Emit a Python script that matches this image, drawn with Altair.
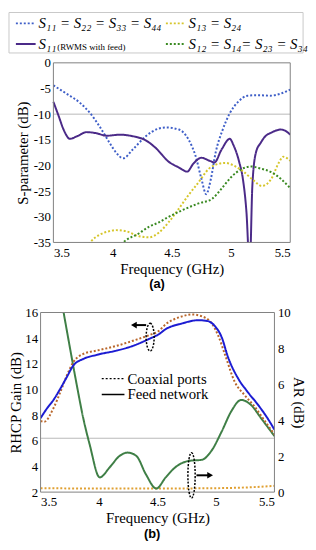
import altair as alt
import pandas as pd

FONT = "Liberation Serif"

# ---------------- Panel (a): S-parameters ----------------
F_S11 = [3.5, 3.61, 3.73, 3.81, 3.89, 3.975, 4.03, 4.09, 4.17, 4.28, 4.39, 4.45, 4.56, 4.64,
         4.70, 4.75, 4.79, 4.83, 4.87, 4.93, 4.99, 5.06, 5.14, 5.23, 5.33, 5.42, 5.5]
V_S11 = [-4.4, -6.0, -7.9, -9.8, -12.4, -15.6, -17.5, -18.6, -16.9, -14.3, -12.8, -12.6, -13.0, -14.9,
         -18.1, -22.6, -25.6, -22.6, -17.5, -13.0, -9.8, -7.6, -6.4, -6.3, -6.4, -6.0, -5.2]

F_RW = [3.5, 3.545, 3.586, 3.64, 3.70, 3.78, 3.86, 3.95, 4.06, 4.17, 4.28, 4.36, 4.475, 4.56,
        4.63, 4.68, 4.75, 4.82, 4.86, 4.92, 4.99, 5.02, 5.07, 5.10, 5.13, 5.158, 5.18, 5.21,
        5.25, 5.29, 5.34, 5.42, 5.47, 5.5]
V_RW = [-7.6, -10.4, -13.0, -14.8, -14.3, -13.5, -13.7, -14.2, -14.0, -14.3, -15.1, -16.5, -19.3, -20.4,
        -21.2, -19.7, -18.5, -19.1, -19.4, -16.9, -14.8, -16.0, -19.4, -22.6, -29.0, -40.0, -24.0, -17.5,
        -15.6, -14.3, -13.6, -13.0, -13.4, -14.0]

F_S13 = [3.78, 3.81, 3.89, 3.975, 4.03, 4.11, 4.225, 4.31, 4.39, 4.475, 4.56, 4.64, 4.725, 4.81,
         4.89, 4.95, 5.03, 5.11, 5.19, 5.26, 5.34, 5.405, 5.44, 5.5]
V_S13 = [-36.0, -35.0, -33.5, -32.8, -32.6, -32.8, -33.8, -34.0, -33.1, -31.0, -28.4, -25.8, -23.3, -20.7,
         -19.7, -19.5, -20.1, -21.3, -22.9, -24.0, -22.6, -19.4, -18.3, -19.1]

F_S12 = [4.05, 4.09, 4.225, 4.31, 4.39, 4.45, 4.59, 4.725, 4.84, 4.92, 5.0, 5.09, 5.17, 5.25,
         5.34, 5.42, 5.5]
V_S12 = [-36.0, -35.0, -33.2, -31.9, -31.1, -30.3, -28.7, -27.4, -26.5, -24.5, -22.3, -20.7, -20.2, -20.6,
         -21.3, -22.6, -24.4]

SERIES_A = ["S11", "S11 RWMS", "S13", "S12"]
COLORS_A = ["#3f5fc8", "#4b2a88", "#d6c62c", "#3a8a22"]
DASH_A = [[2, 2], [1, 0], [2, 2], [2, 2]]
LEG_A = ["S\u2081\u2081 = S\u2082\u2082 = S\u2083\u2083 = S\u2084\u2084",
         "S\u2081\u2081",
         "S\u2081\u2083 = S\u2082\u2084",
         "S\u2081\u2082 = S\u2081\u2084= S\u2082\u2083 = S\u2083\u2084"]
LEG_A_SUB = "(RWMS with feed)"

rows = []
for name, fs, vs in zip(SERIES_A, [F_S11, F_RW, F_S13, F_S12], [V_S11, V_RW, V_S13, V_S12]):
    for f, v in zip(fs, vs):
        rows.append({"series": name, "f": f, "v": v})
df_a = pd.DataFrame(rows)

axis_common = dict(domain=False, ticks=False, grid=False, labelFont=FONT, titleFont=FONT,
                   labelFontSize=13, titleFontSize=15, labelColor="black", titleColor="black",
                   titleFontWeight="normal")

# panel (a) view is 253 wide; the data area occupies pixels 13..253 of it
WA, HA, SHIFT = 253, 182, 13
xa = alt.X("f:Q", scale=alt.Scale(domain=[3.5, 5.5], nice=False, zero=False, range=[SHIFT, WA]),
           axis=alt.Axis(values=[3.5, 4, 4.5, 5, 5.5], format="~g", title="Frequency (GHz)",
                         titleX=SHIFT + (WA - SHIFT) / 2, labelPadding=4, titlePadding=2, **axis_common))
ya = alt.Y("v:Q", scale=alt.Scale(domain=[-35, 0], nice=False, zero=False),
           axis=alt.Axis(values=list(range(-35, 1, 5)), labelExpr="'' + datum.value", offset=-SHIFT,
                         title="S-parameter (dB)", labelPadding=3, titlePadding=3, **axis_common))

one = pd.DataFrame({"k": [0]})
box_a = alt.Chart(one).mark_rect(fillOpacity=0, stroke="#808080", strokeWidth=1).encode(
    x=alt.value(SHIFT), x2=alt.value(WA), y=alt.value(0), y2=alt.value(HA))

grid_a = alt.Chart(pd.DataFrame({"v": [-10]})).mark_rule(color="#b8b8b8", strokeWidth=1).encode(
    y=ya, x=alt.value(SHIFT), x2=alt.value(WA))

lines_a = alt.Chart(df_a).mark_line(clip=True, strokeWidth=2, interpolate="monotone").encode(
    x=xa, y=ya,
    color=alt.Color("series:N", scale=alt.Scale(domain=SERIES_A, range=COLORS_A), legend=None),
    strokeDash=alt.StrokeDash("series:N", scale=alt.Scale(domain=SERIES_A, range=DASH_A), legend=None),
)

leg_box = alt.Chart(one).mark_rect(fill="white", stroke="#c8c8c8", strokeWidth=1).encode(
    x=alt.value(-32), x2=alt.value(266), y=alt.value(-51), y2=alt.value(-10))

leg_layers = [leg_box]
pos = [(-25, -40), (-25, -19), (127, -40), (127, -19)]
for i, (px, py) in enumerate(pos):
    leg_layers.append(
        alt.Chart(one).mark_rule(color=COLORS_A[i], strokeDash=DASH_A[i], strokeWidth=2).encode(
            x=alt.value(px), x2=alt.value(px + 20), y=alt.value(py)))
    leg_layers.append(
        alt.Chart(pd.DataFrame({"t": [LEG_A[i]]})).mark_text(
            align="left", baseline="middle", font=FONT, fontSize=15, fontStyle="italic", color="black"
        ).encode(x=alt.value(px + 23), y=alt.value(py), text="t:N"))
leg_layers.append(
    alt.Chart(pd.DataFrame({"t": [LEG_A_SUB]})).mark_text(
        align="left", baseline="middle", font=FONT, fontSize=9, color="black"
    ).encode(x=alt.value(17), y=alt.value(-16), text="t:N"))

label_a = alt.Chart(pd.DataFrame({"t": ["(a)"]})).mark_text(
    font="Liberation Sans", fontSize=13, fontWeight="bold", color="black", baseline="middle"
).encode(x=alt.value(118), y=alt.value(224), text="t:N")

panel_a = alt.layer(grid_a, lines_a, box_a, *leg_layers, label_a).properties(width=WA, height=HA)

# ---------------- Panel (b): RHCP gain and AR ----------------
F_GF = [3.5, 3.556, 3.61, 3.67, 3.725, 3.78, 3.865, 3.98, 4.15, 4.29, 4.43, 4.51, 4.57, 4.71,
        4.85, 4.93, 4.99, 5.05, 5.1, 5.19, 5.27, 5.36, 5.44, 5.5]
V_GF = [7.77, 8.54, 9.18, 10.08, 10.98, 11.87, 12.38, 12.7, 13.03, 13.4, 13.95, 14.3, 14.7, 15.15,
        15.4, 15.33, 14.95, 14.05, 12.6, 10.85, 9.82, 8.8, 7.77, 6.87]

F_GC = [3.5, 3.53, 3.61, 3.67, 3.725, 3.78, 3.865, 3.98, 4.15, 4.29, 4.43, 4.51, 4.57, 4.71,
        4.79, 4.88, 4.96, 5.02, 5.08, 5.16, 5.245, 5.33, 5.41, 5.5]
V_GC = [7.56, 7.48, 8.54, 9.82, 11.1, 12.13, 12.77, 13.03, 13.4, 13.8, 14.24, 14.56, 15.08, 15.7,
        15.85, 15.7, 15.2, 14.18, 12.64, 10.6, 9.56, 8.67, 7.64, 6.49]

F_AF = [3.5, 3.55, 3.6, 3.65, 3.697, 3.753, 3.81, 3.865, 3.92, 4.006, 4.09, 4.175, 4.245, 4.32,
        4.40, 4.49, 4.57, 4.65, 4.77, 4.88, 4.96, 5.05, 5.13, 5.215, 5.3, 5.385, 5.5]
V_AF = [17.0, 15.3, 13.5, 11.7, 10.0, 7.97, 5.95, 4.12, 2.65, 0.82, 1.37, 2.01, 2.2, 2.01,
        1.0, 0.2, 0.82, 1.37, 1.74, 1.8, 2.29, 3.39, 4.49, 5.13, 4.85, 4.12, 3.12]

F_AC = [3.5, 4.0, 4.5, 5.0, 5.3, 5.5]
V_AC = [0.22, 0.2, 0.2, 0.22, 0.27, 0.35]

CURVES_B = ["gain_coax", "gain_feed", "ar_coax", "ar_feed"]
COLORS_B = ["#b9662a", "#1c1cd2", "#e0a032", "#3f7f46"]
PORTS = ["Coaxial ports", "Feed network"]
DASH_B = [[2, 2], [1, 0]]

def long(curve, port, fs, vs):
    return pd.DataFrame({"curve": curve, "port": port, "f": fs, "v": vs})

df_gain = pd.concat([long("gain_coax", PORTS[0], F_GC, V_GC), long("gain_feed", PORTS[1], F_GF, V_GF)])
df_ar = pd.concat([long("ar_coax", PORTS[0], F_AC, V_AC), long("ar_feed", PORTS[1], F_AF, V_AF)])

WB, HB = 237, 182
xb = alt.X("f:Q", scale=alt.Scale(domain=[3.5, 5.5], nice=False, zero=False),
           axis=alt.Axis(values=[3.5, 4, 4.5, 5, 5.5], format="~g", title="Frequency (GHz)",
                         labelPadding=4, titlePadding=2, **axis_common))
yg = alt.Y("v:Q", scale=alt.Scale(domain=[2, 16], nice=False, zero=False),
           axis=alt.Axis(values=list(range(2, 17, 2)), format="d", title="RHCP Gain (dB)", orient="left",
                         labelPadding=3, titlePadding=1, **axis_common))
yr = alt.Y("v:Q", scale=alt.Scale(domain=[0, 10], nice=False, zero=False),
           axis=alt.Axis(values=list(range(0, 11, 2)), format="d", title="AR (dB)", orient="right",
                         labelPadding=3, titlePadding=0, **axis_common))

color_b = alt.Color("curve:N", scale=alt.Scale(domain=CURVES_B, range=COLORS_B), legend=None)
dash_b = alt.StrokeDash("port:N", scale=alt.Scale(domain=PORTS, range=DASH_B), legend=None)

box_b = alt.Chart(one).mark_rect(fillOpacity=0, stroke="#808080", strokeWidth=1).encode(
    x=alt.value(0), x2=alt.value(WB), y=alt.value(0), y2=alt.value(HB))

gain_lines = alt.Chart(df_gain).mark_line(clip=True, strokeWidth=2, interpolate="monotone").encode(
    x=xb, y=yg, color=color_b, strokeDash=dash_b)

# annotations (ellipses + arrows), in gain units
ELL1 = {"f": [4.437], "v": [14.08]}
ELL2 = {"f": [4.791], "v": [3.31]}
ARR1 = {"f": [4.403], "f2": [4.31], "v": [15.02]}
ARR2 = {"f": [4.833], "f2": [4.935], "v": [3.31]}
HEAD1 = {"f": [4.298], "v": [15.02]}
HEAD2 = {"f": [4.95], "v": [3.31]}

ell1 = alt.Chart(pd.DataFrame(ELL1)).mark_point(
    shape="M 0 -1 A 0.29 1 0 1 1 0 1 A 0.29 1 0 1 1 0 -1 Z", size=784, filled=False,
    color="black", strokeWidth=1.5, strokeDash=[2, 1.5], opacity=1).encode(x=xb, y=yg)
ell2 = alt.Chart(pd.DataFrame(ELL2)).mark_point(
    shape="M 0 -1 A 0.16 1 0 1 1 0 1 A 0.16 1 0 1 1 0 -1 Z", size=2116, filled=False,
    color="black", strokeWidth=1.5, strokeDash=[2, 1.5], opacity=1).encode(x=xb, y=yg)
arr1 = alt.Chart(pd.DataFrame(ARR1)).mark_rule(color="black", strokeWidth=2).encode(x=xb, x2="f2:Q", y=yg)
arr2 = alt.Chart(pd.DataFrame(ARR2)).mark_rule(color="black", strokeWidth=2).encode(x=xb, x2="f2:Q", y=yg)
head1 = alt.Chart(pd.DataFrame(HEAD1)).mark_point(shape="triangle-left", filled=True, color="black",
                                                  size=45, opacity=1).encode(x=xb, y=yg)
head2 = alt.Chart(pd.DataFrame(HEAD2)).mark_point(shape="triangle-right", filled=True, color="black",
                                                  size=45, opacity=1).encode(x=xb, y=yg)

# legend for panel b
leg_b = []
for i, py in enumerate([67, 83]):
    leg_b.append(alt.Chart(one).mark_rule(color="black", strokeDash=DASH_B[i], strokeWidth=1.5).encode(
        x=alt.value(62), x2=alt.value(85), y=alt.value(py)))
    leg_b.append(alt.Chart(pd.DataFrame({"t": [PORTS[i]]})).mark_text(
        align="left", baseline="middle", font=FONT, fontSize=15, color="black"
    ).encode(x=alt.value(88), y=alt.value(py), text="t:N"))

label_b = alt.Chart(pd.DataFrame({"t": ["(b)"]})).mark_text(
    font="Liberation Sans", fontSize=13, fontWeight="bold", color="black", baseline="middle"
).encode(x=alt.value(113), y=alt.value(224), text="t:N")

gain_group = alt.layer(gain_lines, box_b, ell1, ell2, arr1, arr2, head1, head2, *leg_b, label_b)

grid_b = alt.Chart(pd.DataFrame({"v": [3]})).mark_rule(color="#b8b8b8", strokeWidth=1).encode(y=yr)
ar_lines = alt.Chart(df_ar).mark_line(clip=True, strokeWidth=2, interpolate="monotone").encode(
    x=xb, y=yr, color=color_b, strokeDash=dash_b)
ar_group = alt.layer(grid_b, ar_lines)

panel_b = alt.layer(ar_group, gain_group).resolve_scale(y="independent").properties(width=WB, height=HB)

chart = alt.vconcat(panel_a, panel_b, spacing=16).resolve_scale(
    x="independent", y="independent", color="independent", strokeDash="independent"
).properties(
    padding=0, background="white"
).configure_view(strokeWidth=0)

chart.save("out.html", embed_options={"renderer": "svg", "actions": False})
